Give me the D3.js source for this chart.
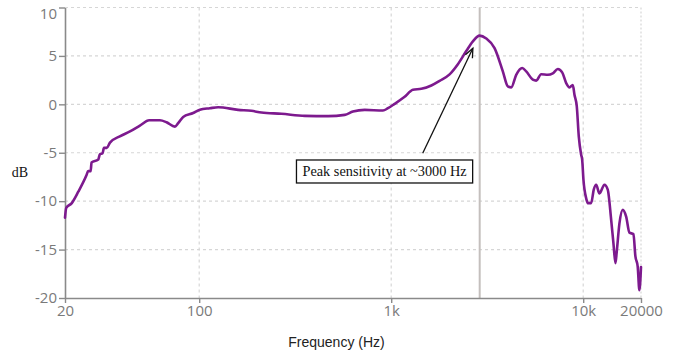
<!DOCTYPE html>
<html>
<head>
<meta charset="utf-8">
<script src="https://cdn.jsdelivr.net/npm/d3@7"></script>
<style>
  html, body { margin: 0; padding: 0; background: #fff; }
  svg { display: block; }
</style>
</head>
<body>
<svg id="chart" width="686" height="354"></svg>
<script>
// ---- data ----
const freqs = [20, 20.3, 21.7, 23.5, 25.9, 26.4, 27.2, 27.5, 29.8, 30.4, 31.4, 31.9, 33.0, 34.3, 38.6, 43.6, 49.1, 54.9, 62.4, 67.6, 74.7, 77.7, 82.5, 93.0, 100.8, 113.6, 125.5, 159.5, 187, 211, 268, 355, 469, 573, 632, 728, 906, 962, 1042, 1170, 1298, 1435, 1618, 1787, 2014, 2225, 2460, 2663, 2885, 3127, 3454, 3814, 4050, 4217, 4478, 4813, 5049, 5466, 5693, 6043, 6541, 6944, 7373, 7772, 8154, 8484, 8826, 9006, 9259, 9483, 9758, 9876, 10031, 10362, 10562, 11002, 11350, 11681, 12152, 12900, 13421, 13982, 14372, 14720, 14952, 15444, 16068, 16737, 17408, 18261, 18704, 19224, 19621, 20000];
const dbValues = [-11.7, -10.7, -10.2, -9.0, -7.3, -6.9, -6.9, -6.0, -5.7, -5.15, -5.05, -4.5, -4.5, -3.95, -3.3, -2.8, -2.2, -1.65, -1.65, -1.85, -2.3, -1.95, -1.3, -0.9, -0.55, -0.4, -0.3, -0.57, -0.67, -0.85, -0.98, -1.19, -1.22, -1.09, -0.74, -0.57, -0.64, -0.4, 0.05, 0.75, 1.5, 1.6, 1.95, 2.43, 3.1, 4.15, 5.5, 6.5, 7.1, 6.8, 5.8, 3.4, 1.85, 1.75, 3.05, 3.75, 3.4, 2.55, 2.45, 3.1, 3.05, 3.2, 3.65, 3.3, 2.2, 1.75, 2.0, 1.0, -0.2, -3.3, -5.2, -5.7, -7.8, -9.7, -10.2, -10.2, -8.8, -8.3, -9.2, -8.3, -8.8, -11.9, -14.35, -16.4, -15.2, -12.3, -10.9, -11.6, -13.25, -13.4, -15.7, -16.75, -19.2, -16.8];

const xTickValues = [20, 100, 1000, 10000, 20000];
const xTickLabels = ["20", "100", "1k", "10k", "20000"];
const yTickValues = [-20, -15, -10, -5, 0, 5, 10];
const yTickLabels = ["-20", "-15", "-10", "-5", "0", "5", "10"];

const peakFreq = 2890;            // vertical marker
const annotationText = "Peak sensitivity at ~3000 Hz";
const arrowFrom = [1459, -5.05];  // [Hz, dB]
const arrowTo = [2663, 5.8];
const labelAnchor = [345, -7.4];  // text start [Hz, dB baseline]

const xLabel = "Frequency (Hz)";
const yLabel = "dB";

// ---- chart ----
const svg = d3.select("#chart");
const x = d3.scaleLog().domain([20, 20000]).range([65, 641]);
const y = d3.scaleLinear().domain([-20, 10]).range([298, 7.5]);

const data = freqs.map((f, i) => ({ f, v: dbValues[i] }));

// grid
const grid = svg.append("g");
grid.selectAll("line.h").data(yTickValues.filter(v => v > -20)).enter().append("line")
  .attr("x1", x(20)).attr("x2", x(20000))
  .attr("y1", d => y(d)).attr("y2", d => y(d))
  .attr("stroke", "#d6d6d6").attr("stroke-width", 1.2).attr("stroke-dasharray", "3,3");
grid.selectAll("line.v").data(xTickValues.filter(v => v > 20)).enter().append("line")
  .attr("x1", d => x(d)).attr("x2", d => x(d))
  .attr("y1", y(10)).attr("y2", y(-20))
  .attr("stroke", "#d6d6d6").attr("stroke-width", 1.2)
  .attr("stroke-dasharray", d => d === 20000 ? "2,2" : "3,3");

// peak marker
svg.append("line")
  .attr("x1", x(peakFreq)).attr("x2", x(peakFreq))
  .attr("y1", y(10)).attr("y2", y(-20))
  .attr("stroke", "#c4bfbd").attr("stroke-width", 2);

// axes
const yAxis = d3.axisLeft(y).tickValues(yTickValues)
  .tickFormat((d, i) => yTickLabels[i]).tickSize(6).tickPadding(2).tickSizeOuter(0);
const xAxis = d3.axisBottom(x).tickValues(xTickValues)
  .tickFormat((d, i) => xTickLabels[i]).tickSize(5).tickPadding(2).tickSizeOuter(0);

const gy = svg.append("g").attr("transform", `translate(${x(20)},0)`).call(yAxis);
const gx = svg.append("g").attr("transform", `translate(0,${y(-20)})`).call(xAxis);
[gx, gy].forEach(g => {
  g.select(".domain").attr("stroke", "#8a8a8a").attr("stroke-width", 1.6);
  g.selectAll(".tick line").attr("stroke", "#8a8a8a").attr("stroke-width", 1.4);
  g.selectAll(".tick text").attr("fill", "#7a7a7a")
    .style("font-family", "'Open Sans', 'Noto Sans', sans-serif").style("font-size", "15px");
});
gy.selectAll(".tick text").filter(d => d === 10).attr("y", 6.5);

// line
const line = d3.line().x(d => x(d.f)).y(d => y(d.v)).curve(d3.curveMonotoneX);
svg.append("path").datum(data)
  .attr("d", line).attr("fill", "none")
  .attr("stroke", "#7d1a8e").attr("stroke-width", 2.6)
  .attr("stroke-linejoin", "round").attr("stroke-linecap", "round");

// axis labels
svg.append("text").attr("x", 336.5).attr("y", 347).attr("text-anchor", "middle")
  .style("font-family", "'Liberation Sans', Arial, sans-serif").style("font-size", "14px")
  .attr("fill", "#222").text(xLabel);
svg.append("text").attr("x", 20).attr("y", 177).attr("text-anchor", "middle")
  .style("font-family", "'Liberation Serif', 'Times New Roman', serif").style("font-size", "14px")
  .attr("fill", "#111").text(yLabel);

// annotation arrow
const ax1 = x(arrowFrom[0]), ay1 = y(arrowFrom[1]);
const ax2 = x(arrowTo[0]), ay2 = y(arrowTo[1]);
svg.append("line").attr("x1", ax1).attr("y1", ay1).attr("x2", ax2).attr("y2", ay2)
  .attr("stroke", "#111").attr("stroke-width", 1.3);
const ang = Math.atan2(ay2 - ay1, ax2 - ax1);
const hl = 10, ha = 0.4;
svg.append("path")
  .attr("d", `M${ax2 - hl * Math.cos(ang - ha)},${ay2 - hl * Math.sin(ang - ha)} L${ax2},${ay2} L${ax2 - hl * Math.cos(ang + ha)},${ay2 - hl * Math.sin(ang + ha)}`)
  .attr("fill", "none").attr("stroke", "#111").attr("stroke-width", 1.3);

// annotation box
const ann = svg.append("g");
const box = ann.append("rect");
const t = ann.append("text").attr("x", x(labelAnchor[0])).attr("y", y(labelAnchor[1]))
  .style("font-family", "'Liberation Serif', 'Times New Roman', serif").style("font-size", "14.3px")
  .attr("fill", "#111").text(annotationText);
const bb = t.node().getBBox();
box.attr("x", bb.x - 6).attr("y", y(labelAnchor[1]) - 16)
  .attr("width", bb.width + 12).attr("height", 23)
  .attr("fill", "#fff").attr("stroke", "#111").attr("stroke-width", 1.3);
</script>
</body>
</html>
